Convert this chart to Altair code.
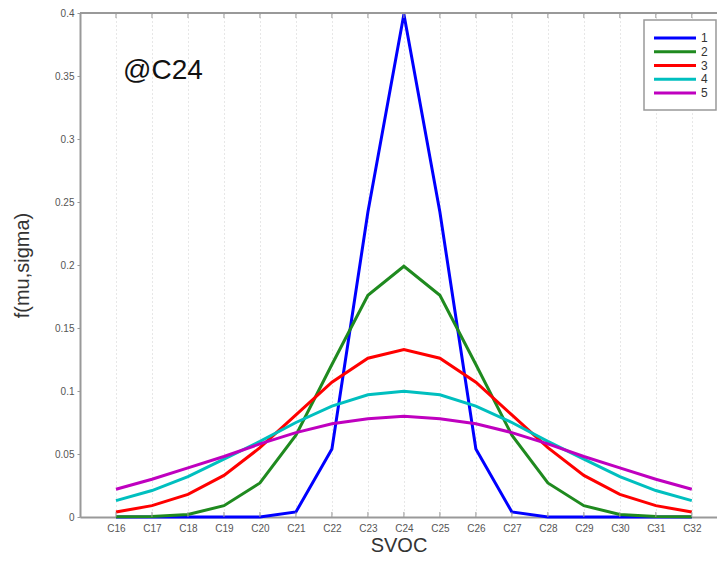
import altair as alt
import pandas as pd

categories = ["C16", "C17", "C18", "C19", "C20", "C21", "C22", "C23", "C24",
              "C25", "C26", "C27", "C28", "C29", "C30", "C31", "C32"]
series_names = ["1", "2", "3", "4", "5"]

s1 = [0.0, 0.0, 0.0, 0.0, 0.0, 0.004, 0.054, 0.242, 0.399, 0.242, 0.054, 0.004, 0.0, 0.0, 0.0, 0.0, 0.0]
s2 = [0.0001, 0.0004, 0.002, 0.009, 0.027, 0.065, 0.121, 0.176, 0.199, 0.176, 0.121, 0.065, 0.027, 0.009, 0.002, 0.0004, 0.0001]
s3 = [0.004, 0.009, 0.018, 0.033, 0.055, 0.081, 0.107, 0.126, 0.133, 0.126, 0.107, 0.081, 0.055, 0.033, 0.018, 0.009, 0.004]
s4 = [0.013, 0.021, 0.032, 0.046, 0.060, 0.075, 0.088, 0.097, 0.0997, 0.097, 0.088, 0.075, 0.060, 0.046, 0.032, 0.021, 0.013]
s5 = [0.022, 0.030, 0.039, 0.048, 0.058, 0.067, 0.074, 0.078, 0.080, 0.078, 0.074, 0.067, 0.058, 0.048, 0.039, 0.030, 0.022]
all_series = [s1, s2, s3, s4, s5]
colors = ["#0000ff", "#1f8a1f", "#ff0000", "#00bfbf", "#bf00bf"]

y_ticks = [0, 0.05, 0.1, 0.15, 0.2, 0.25, 0.3, 0.35, 0.4]
x_domain = [15, 32.7]   # plot window in carbon-number units (right side cropped as in the reference)

cat_num = [int(c[1:]) for c in categories]

rows = []
for name, vals in zip(series_names, all_series):
    for c, n, v in zip(categories, cat_num, vals):
        rows.append({"SVOC": c, "n": n, "f": v, "series": name})
df = pd.DataFrame(rows)

FONT = "Liberation Sans"
GRAY = "#999"

x_scale = alt.Scale(domain=x_domain, nice=False, zero=False)
y_scale = alt.Scale(domain=[0, 0.4], nice=False)
color_scale = alt.Scale(domain=series_names, range=colors)

x_enc = alt.X("n:Q", scale=x_scale,
              axis=alt.Axis(title="SVOC", values=cat_num, tickCount=len(cat_num) + 5,
                            labelExpr="'C' + datum.value",
                            labelAngle=0, labelFontSize=10, labelColor="#555", labelOverlap=False,
                            titleFontSize=20, titleFontWeight="normal", titleColor="#333",
                            titlePadding=2, grid=True, gridColor="#cfcfcf", gridDash=[1, 3],
                            domainColor=GRAY, domainWidth=2, ticks=False, labelPadding=6))
y_enc = alt.Y("f:Q", scale=y_scale,
              axis=alt.Axis(title="f(mu,sigma)", values=y_ticks, tickCount=len(y_ticks) + 5,
                            format=".2~f",
                            labelFontSize=10, labelColor="#555", labelOverlap=False,
                            titleFontSize=20, titleFontWeight="normal", titleColor="#333",
                            titlePadding=22, grid=False, domainColor=GRAY, domainWidth=2,
                            tickColor=GRAY, tickSize=3, labelPadding=3))

lines = alt.Chart(df).mark_line(strokeWidth=3).encode(
    x=x_enc,
    y=y_enc,
    color=alt.Color("series:N", scale=color_scale, legend=None),
)

# frame top edge and inward tick marks at each category (top and bottom)
top_df = pd.DataFrame({"a": [x_domain[0]], "b": [x_domain[1]], "f": [0.4]})
top_edge = alt.Chart(top_df).mark_rule(color=GRAY, strokeWidth=2).encode(
    x=alt.X("a:Q", scale=x_scale), x2="b:Q", y=alt.Y("f:Q", scale=y_scale))

tick_df = pd.DataFrame({"n": cat_num})
bottom_ticks = alt.Chart(tick_df).mark_rule(color=GRAY, strokeWidth=1).encode(
    x=alt.X("n:Q", scale=x_scale), y=alt.datum(0, scale=y_scale), y2=alt.datum(0.004))
top_ticks = alt.Chart(tick_df).mark_rule(color=GRAY, strokeWidth=1).encode(
    x=alt.X("n:Q", scale=x_scale), y=alt.datum(0.4, scale=y_scale), y2=alt.datum(0.396))

label_df = pd.DataFrame({"n": [16], "f": [0.35], "t": ["@C24"]})
label = alt.Chart(label_df).mark_text(align="left", baseline="middle", fontSize=28, dx=7, dy=-5,
                                      color="#111", font=FONT).encode(
    x=alt.X("n:Q", scale=x_scale), y=alt.Y("f:Q", scale=y_scale), text="t:N")

main = alt.layer(lines, bottom_ticks, top_ticks, top_edge, label)

# legend box (drawn as marks so its compact MATLAB-like layout can be matched)
leg_df = pd.DataFrame({"series": series_names})
leg_y = alt.Y("series:N", scale=alt.Scale(domain=series_names, range=[18, 87]), axis=None)
leg_box = alt.Chart(pd.DataFrame({"k": [0]})).mark_rect(
    fill="white", stroke=GRAY, strokeWidth=1.5).encode(
    x=alt.value(564), x2=alt.value(636), y=alt.value(7), y2=alt.value(97))
leg_lines = alt.Chart(leg_df).mark_rule(strokeWidth=3).encode(
    x=alt.value(574), x2=alt.value(616), y=leg_y,
    color=alt.Color("series:N", scale=color_scale, legend=None))
leg_text = alt.Chart(leg_df).mark_text(align="left", baseline="middle", fontSize=12,
                                       color="#333", font=FONT).encode(
    x=alt.value(621), y=leg_y, text="series:N")
legend = alt.layer(leg_box, leg_lines, leg_text)

chart = alt.layer(main, legend).resolve_scale(y="independent").properties(
    width=637, height=504,
    autosize=alt.AutoSizeParams(type="none"),
    padding={"left": 72, "top": 5, "right": 0, "bottom": 40},
).configure(font=FONT).configure_view(strokeWidth=0, stroke="transparent"
).configure_axis(labelOverlap=False)

chart.save("out.html", embed_options={"renderer": "svg", "actions": False})
